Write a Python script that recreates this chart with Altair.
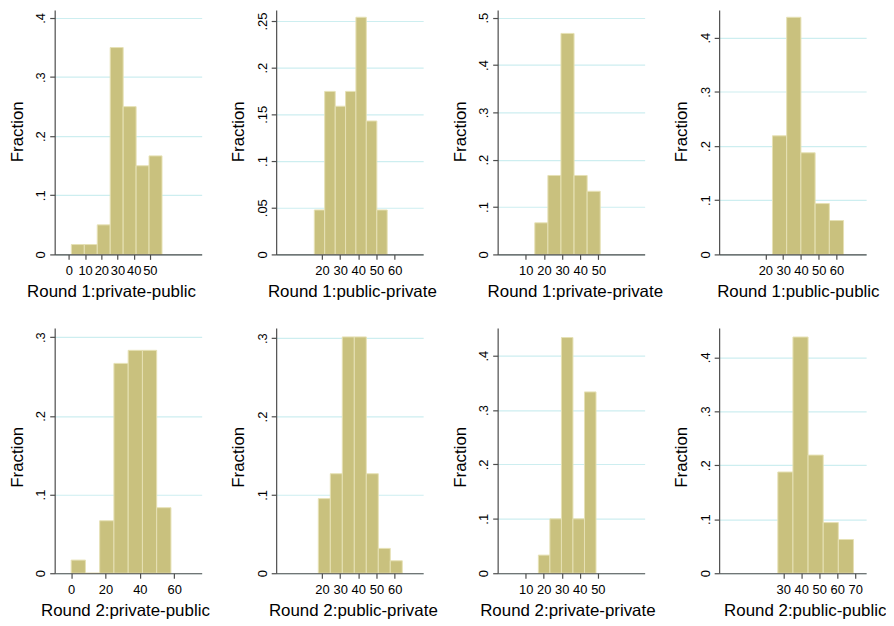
import altair as alt
import pandas as pd

# ---------------- data ----------------
titles = [
    "Round 1:private-public", "Round 1:public-private",
    "Round 1:private-private", "Round 1:public-public",
    "Round 2:private-public", "Round 2:public-private",
    "Round 2:private-private", "Round 2:public-public",
]

# histogram bin edges (x values)
edges_r1_prpu = [1.5, 9.5, 17.5, 25.5, 33.5, 41.5, 49.5, 57.5]
edges_r1_pupr = [15.8, 21.5, 27.3, 33.0, 38.7, 44.4, 50.2, 55.9]
edges_r1_prpr = [15.0, 22.2, 29.4, 36.6, 43.8, 51.0]
edges_r1_pupu = [24.0, 32.0, 40.0, 48.0, 56.0, 64.0]
edges_r2_prpu = [0.0, 8.3, 16.6, 24.9, 33.2, 41.5, 49.8, 58.1]
edges_r2_pupr = [18.0, 24.6, 31.2, 37.8, 44.4, 51.0, 57.6, 64.2]
edges_r2_prpr = [17.0, 23.4, 29.8, 36.2, 42.6, 49.0]
edges_r2_pupu = [27.0, 35.4, 43.8, 52.2, 60.6, 69.0]

# fraction in each bin
frac_r1_prpu = [0.0167, 0.0167, 0.05, 0.35, 0.25, 0.15, 0.1667]
frac_r1_pupr = [0.0476, 0.1746, 0.1587, 0.1746, 0.254, 0.1429, 0.0476]
frac_r1_prpr = [0.0667, 0.1667, 0.4667, 0.1667, 0.1333]
frac_r1_pupu = [0.2188, 0.4375, 0.1875, 0.0938, 0.0625]
frac_r2_prpu = [0.0167, 0.0, 0.0667, 0.2667, 0.2833, 0.2833, 0.0833]
frac_r2_pupr = [0.0952, 0.127, 0.3016, 0.3016, 0.127, 0.0317, 0.0159]
frac_r2_prpr = [0.0333, 0.1, 0.4333, 0.1, 0.3333]
frac_r2_pupu = [0.1875, 0.4375, 0.2188, 0.0938, 0.0625]

# tick labels
x_ticks = [
    [0, 10, 20, 30, 40, 50], [20, 30, 40, 50, 60], [10, 20, 30, 40, 50], [20, 30, 40, 50, 60],
    [0, 20, 40, 60], [20, 30, 40, 50, 60], [10, 20, 30, 40, 50], [30, 40, 50, 60, 70],
]
y_ticks = [
    [0, 0.1, 0.2, 0.3, 0.4], [0, 0.05, 0.1, 0.15, 0.2, 0.25], [0, 0.1, 0.2, 0.3, 0.4, 0.5], [0, 0.1, 0.2, 0.3, 0.4],
    [0, 0.1, 0.2, 0.3], [0, 0.1, 0.2, 0.3], [0, 0.1, 0.2, 0.3, 0.4], [0, 0.1, 0.2, 0.3, 0.4],
]

edges = [edges_r1_prpu, edges_r1_pupr, edges_r1_prpr, edges_r1_pupu,
         edges_r2_prpu, edges_r2_pupr, edges_r2_prpr, edges_r2_pupu]
fracs = [frac_r1_prpu, frac_r1_pupr, frac_r1_prpr, frac_r1_pupu,
         frac_r2_prpu, frac_r2_pupr, frac_r2_prpr, frac_r2_pupu]

# ---------------- scale extents and layout styles ----------------
x_domains = [[-8.8, 82.0], [-5.2, 75.7], [-5.45, 75.45], [-6.0, 76.7],
             [-9.6, 76.0], [-5.2, 75.7], [-5.6, 76.0], [-5.6, 76.05]]
y_max = [0.4134, 0.2617, 0.516, 0.4508, 0.3118, 0.3131, 0.451, 0.4544]
x_title_x = [56.7, 76.2, 77.7, 79.2, 70.7, 77.2, 70.2, 86.2]
row_heights = [246, 247]
y_title_y = [122, 129.7]

FILL = "#C9C17E"
EDGE = "#E6E1B4"
GRID = "#CDEEF0"
AXIS = "#4d4d4d"
FONT = "Liberation Sans"


def panel(i):
    row = i // 4
    df = pd.DataFrame({
        "lo": edges[i][:-1],
        "hi": edges[i][1:],
        "frac": fracs[i],
        "base": [0.0] * len(fracs[i]),
    })
    return alt.Chart(df).mark_rect(
        color=FILL, stroke=EDGE, strokeWidth=1
    ).encode(
        x=alt.X("lo:Q",
                scale=alt.Scale(domain=x_domains[i], nice=False, zero=False),
                axis=alt.Axis(values=x_ticks[i], format="d", title=titles[i],
                              titleX=x_title_x[i], titleY=42.6,
                              titleBaseline="alphabetic", titleAlign="center",
                              labelBaseline="alphabetic", labelPadding=15.7,
                              labelFlush=False, labelOverlap=False,
                              tickSize=5, grid=False, zindex=1)),
        x2="hi:Q",
        y=alt.Y("frac:Q",
                scale=alt.Scale(domain=[0, y_max[i]], nice=False, zero=True),
                axis=alt.Axis(values=y_ticks[i], title="Fraction",
                              labelExpr="datum.value == 0 ? '0' : substring(format(datum.value, '.2~f'), 1)",
                              labelAngle=270, labelAlign="center",
                              labelBaseline="alphabetic", labelPadding=4.8,
                              labelFlush=False, labelOverlap=False,
                              titleAngle=270, titleBaseline="alphabetic",
                              titleAlign="center",
                              titleX=-32.6, titleY=y_title_y[row],
                              tickSize=5, grid=True, gridColor=GRID,
                              gridWidth=1.2)),
        y2="base:Q",
    ).properties(width=148, height=row_heights[row])


chart = alt.concat(*[panel(i) for i in range(8)], columns=4,
                   spacing={"row": 74, "column": 75}, bounds="flush").properties(
    padding={"left": 0, "top": 0, "right": 0, "bottom": 0},
    background="white",
).configure_view(stroke=None).configure_axis(
    labelFont=FONT, titleFont=FONT, labelFontSize=13, titleFontSize=17,
    titleFontWeight="normal", labelColor="black", titleColor="black",
    domainColor=AXIS, tickColor=AXIS, domainWidth=1.2, tickWidth=1.2,
)

chart.save("out.html", embed_options={"renderer": "svg", "actions": False})
